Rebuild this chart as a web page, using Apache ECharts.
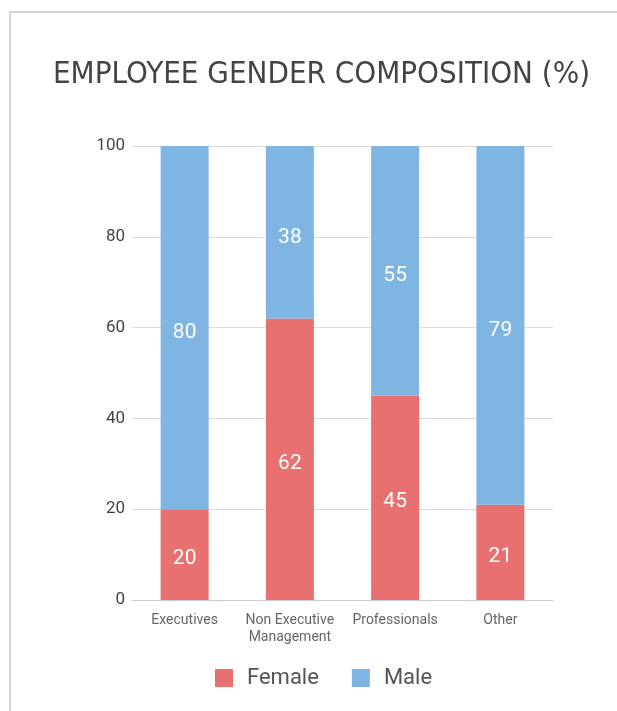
<!DOCTYPE html>
<html><head><meta charset="utf-8">
<script src="https://cdn.jsdelivr.net/npm/echarts@6/dist/echarts.min.js"></script>
<style>
html,body{margin:0;padding:0;background:#fff;}
#frame{position:absolute;left:9px;top:11px;right:0;bottom:0;border-left:2px solid #d4d4d4;border-top:2px solid #d4d4d4;}
#c{position:absolute;left:0;top:0;width:617px;height:711px;}
</style></head>
<body>
<div id="frame"></div>
<div id="c"></div>
<script>
var categories = ['Executives', 'Non Executive\nManagement', 'Professionals', 'Other'];
var female = [20, 62, 45, 21];
var male = [80, 38, 55, 79];
var yTicks = [0, 20, 40, 60, 80, 100];

var chart = echarts.init(document.getElementById('c'));
chart.setOption({
  animation: false,
  title: {
    text: 'EMPLOYEE GENDER COMPOSITION (%)',
    left: 48, top: 54,
    textStyle: {fontFamily: "'DejaVu Sans Condensed', 'DejaVu Sans', sans-serif", fontSize: 31, fontWeight: 'normal', color: '#444'}
  },
  legend: {
    bottom: 17, left: 210, itemWidth: 18, itemHeight: 18, itemGap: 33,
    icon: 'rect',
    textStyle: {fontFamily: 'Roboto', fontSize: 22, color: '#555', padding: [0, 0, 0, 9]},
    data: ['Female', 'Male']
  },
  grid: {left: 132, right: 64, top: 146, bottom: 111},
  xAxis: {
    type: 'category', data: categories,
    axisLine: {lineStyle: {color: '#cccccc'}},
    axisTick: {show: false},
    axisLabel: {fontFamily: 'Roboto', fontSize: 14, color: '#666', margin: 12, lineHeight: 17, interval: 0}
  },
  yAxis: {
    type: 'value', min: yTicks[0], max: yTicks[yTicks.length - 1], interval: 20,
    axisLine: {show: false}, axisTick: {show: false},
    splitLine: {lineStyle: {color: '#dddddd'}},
    axisLabel: {fontFamily: 'Roboto', fontSize: 17, color: '#444', margin: 7}
  },
  series: [
    {name: 'Female', type: 'bar', stack: 'g', data: female, barWidth: 48,
     itemStyle: {color: '#e87070'},
     label: {show: true, position: 'inside', offset: [0, 4], color: '#fff', fontFamily: 'Roboto', fontSize: 21}},
    {name: 'Male', type: 'bar', stack: 'g', data: male, barWidth: 48,
     itemStyle: {color: '#7fb5e2'},
     label: {show: true, position: 'inside', offset: [0, 5], color: '#fff', fontFamily: 'Roboto', fontSize: 21}}
  ]
});
</script>
</body></html>
